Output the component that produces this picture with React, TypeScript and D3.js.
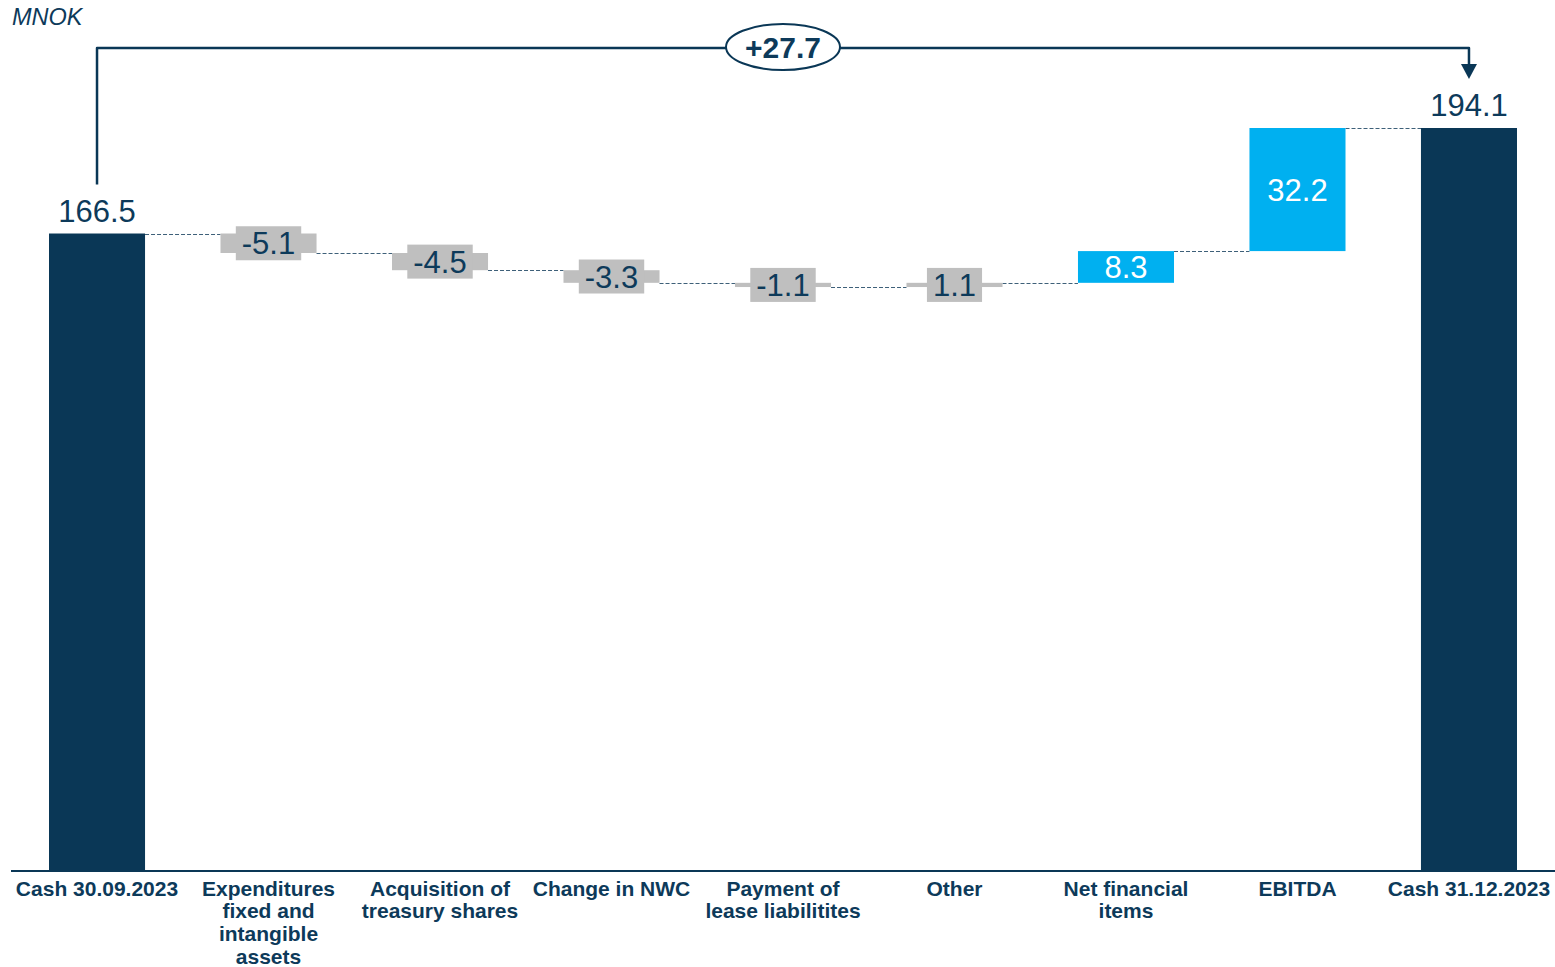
import React, { useEffect, useRef } from 'react';
import * as d3 from 'd3';

const categories = [
  'Cash 30.09.2023',
  'Expenditures fixed and intangible assets',
  'Acquisition of treasury shares',
  'Change in NWC',
  'Payment of lease liabilitites',
  'Other',
  'Net financial items',
  'EBITDA',
  'Cash 31.12.2023',
];
const categoryLines = [
  ['Cash 30.09.2023'],
  ['Expenditures', 'fixed and', 'intangible', 'assets'],
  ['Acquisition of', 'treasury shares'],
  ['Change in NWC'],
  ['Payment of', 'lease liabilitites'],
  ['Other'],
  ['Net financial', 'items'],
  ['EBITDA'],
  ['Cash 31.12.2023'],
];
const values = [166.5, -5.1, -4.5, -3.3, -1.1, 1.1, 8.3, 32.2, 194.1];
const kinds = ['total', 'delta', 'delta', 'delta', 'delta', 'delta', 'delta', 'delta', 'total'];
const valueLabels = ['166.5', '-5.1', '-4.5', '-3.3', '-1.1', '1.1', '8.3', '32.2', '194.1'];
const highlighted = ['Net financial items', 'EBITDA'];
const bridgeLabel = '+27.7';
const unitLabel = 'MNOK';

const NAVY = '#0A3756';
const TEXT = '#0D3A5A';
const BLUE = '#00B0F0';
const GRAY = '#BFBFBF';
const FONT = "'Liberation Sans', Arial, sans-serif";

export default function App() {
  const ref = useRef<SVGSVGElement>(null);
  useEffect(() => {
    const svg = d3.select(ref.current);
    svg.selectAll('*').remove();
    const baseY = 870;
    const x = d3
      .scaleBand<string>()
      .domain(categories)
      .range([11, 1555])
      .paddingInner(0.44)
      .paddingOuter(0.2216);
    const y = d3.scaleLinear().domain([0, d3.max(values) as number]).range([baseY, 128]);
    const bw = x.bandwidth();

    type Row = { cat: string; start: number; end: number; kind: string; label: string; v: number };
    const rows: Row[] = [];
    let run = 0;
    values.forEach((v, i) => {
      if (kinds[i] === 'total') {
        rows.push({ cat: categories[i], start: 0, end: v, kind: 'total', label: valueLabels[i], v });
        run = v;
      } else {
        rows.push({ cat: categories[i], start: run, end: run + v, kind: 'delta', label: valueLabels[i], v });
        run += v;
      }
    });

    const g = svg.append('g').attr('font-family', FONT);

    // unit label
    g.append('text')
      .attr('x', 12)
      .attr('y', 25)
      .attr('font-size', 23.5)
      .attr('font-style', 'italic')
      .attr('fill', TEXT)
      .text(unitLabel);

    // connectors
    for (let i = 0; i < rows.length - 1; i++) {
      const lvl = rows[i].end;
      g.append('line')
        .attr('x1', (x(rows[i].cat) as number) + bw)
        .attr('x2', x(rows[i + 1].cat) as number)
        .attr('y1', Math.round(y(lvl)) + 0.5)
        .attr('y2', Math.round(y(lvl)) + 0.5)
        .attr('stroke', '#3E6079')
        .attr('stroke-width', 1)
        .attr('stroke-dasharray', '4,2');
    }

    // bars
    rows.forEach((r) => {
      const x0 = x(r.cat) as number;
      const top = y(Math.max(r.start, r.end));
      const bot = y(Math.min(r.start, r.end));
      const fill = r.kind === 'total' ? NAVY : highlighted.includes(r.cat) ? BLUE : GRAY;
      g.append('rect')
        .attr('x', x0)
        .attr('y', top)
        .attr('width', bw)
        .attr('height', Math.max(1, bot - top))
        .attr('fill', fill);
    });

    // labels
    rows.forEach((r) => {
      const cx = (x(r.cat) as number) + bw / 2;
      const top = y(Math.max(r.start, r.end));
      const bot = y(Math.min(r.start, r.end));
      if (r.kind === 'total') {
        g.append('text')
          .attr('x', cx)
          .attr('y', top - 12)
          .attr('text-anchor', 'middle')
          .attr('font-size', 31)
          .attr('fill', TEXT)
          .text(r.label);
      } else if (highlighted.includes(r.cat)) {
        g.append('text')
          .attr('x', cx)
          .attr('y', (top + bot) / 2)
          .attr('dy', '0.36em')
          .attr('text-anchor', 'middle')
          .attr('font-size', 31)
          .attr('fill', '#FFFFFF')
          .text(r.label);
      } else {
        const cy = (top + bot) / 2;
        const box = g.append('rect').attr('fill', GRAY);
        const t = g
          .append('text')
          .attr('x', cx)
          .attr('y', cy)
          .attr('dy', '0.36em')
          .attr('text-anchor', 'middle')
          .attr('font-size', 31)
          .attr('fill', TEXT)
          .text(r.label);
        const tw = (t.node() as SVGTextElement).getComputedTextLength();
        const bh = 34;
        box
          .attr('x', cx - tw / 2 - 6)
          .attr('width', tw + 12)
          .attr('y', cy - bh / 2)
          .attr('height', bh);
      }
    });

    // axis line
    g.append('line')
      .attr('x1', 11)
      .attr('x2', 1555)
      .attr('y1', baseY + 1)
      .attr('y2', baseY + 1)
      .attr('stroke', NAVY)
      .attr('stroke-width', 2);

    // category labels
    categories.forEach((c, i) => {
      const cx = (x(c) as number) + bw / 2;
      const t = g
        .append('text')
        .attr('text-anchor', 'middle')
        .attr('font-size', 21)
        .attr('font-weight', 'bold')
        .attr('fill', TEXT);
      categoryLines[i].forEach((line, j) => {
        t.append('tspan').attr('x', cx).attr('y', 895.5 + j * 22.8).text(line);
      });
    });

    // bracket
    const first = rows[0];
    const last = rows[rows.length - 1];
    const xL = (x(first.cat) as number) + bw / 2;
    const xR = (x(last.cat) as number) + bw / 2;
    const yTop = 48;
    const yLb = y(first.end) - 49;
    const yTip = y(last.end) - 49;
    g.append('path')
      .attr('d', `M${xL},${yLb} V${yTop} H${xR} V${yTip - 14}`)
      .attr('fill', 'none')
      .attr('stroke', NAVY)
      .attr('stroke-width', 2.5)
      .attr('stroke-linejoin', 'round');
    g.append('path')
      .attr('d', `M${xR - 8},${yTip - 15} L${xR + 8},${yTip - 15} L${xR},${yTip} Z`)
      .attr('fill', NAVY);
    const mx = (xL + xR) / 2;
    g.append('ellipse')
      .attr('cx', mx)
      .attr('cy', yTop - 1)
      .attr('rx', 57)
      .attr('ry', 23)
      .attr('fill', '#FFFFFF')
      .attr('stroke', NAVY)
      .attr('stroke-width', 2);
    g.append('text')
      .attr('x', mx)
      .attr('y', yTop - 1)
      .attr('dy', '0.36em')
      .attr('text-anchor', 'middle')
      .attr('font-size', 30)
      .attr('font-weight', 'bold')
      .attr('fill', TEXT)
      .text(bridgeLabel);
  }, []);

  return (
    <svg
      ref={ref}
      width={1555}
      height={967}
      style={{ position: 'absolute', left: 0, top: 0, background: '#FFFFFF' }}
    />
  );
}
